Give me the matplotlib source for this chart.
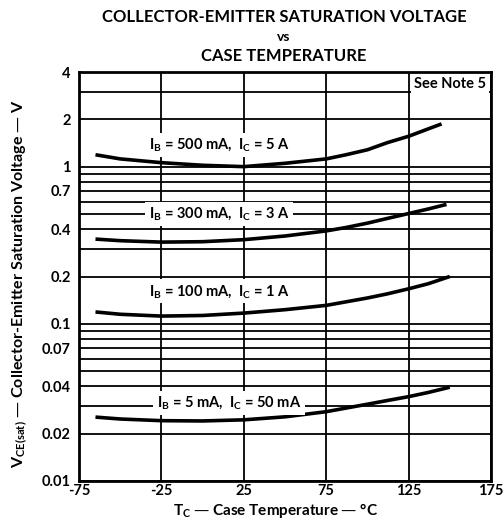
import matplotlib
matplotlib.use("Agg")
import matplotlib.pyplot as plt
from matplotlib.ticker import FixedLocator, LogLocator, NullFormatter

plt.rcParams['font.family'] = ['Lato', 'DejaVu Sans']
plt.rcParams['font.weight'] = 'bold'
plt.rcParams['mathtext.default'] = 'regular'

# Data
temp_500 = [-65, -50, -25, 0, 25, 50, 75, 87, 100, 112, 125, 137, 145]
vce_500 = [1.19, 1.12, 1.06, 1.02, 1.00, 1.05, 1.12, 1.19, 1.28, 1.42, 1.56, 1.74, 1.87]

temp_300 = [-65, -50, -25, 0, 25, 50, 75, 87, 100, 112, 125, 137, 148]
vce_300 = [0.346, 0.338, 0.331, 0.333, 0.343, 0.362, 0.390, 0.410, 0.437, 0.468, 0.503, 0.538, 0.575]

temp_100 = [-65, -50, -25, 0, 25, 50, 75, 87, 100, 112, 125, 137, 150]
vce_100 = [0.119, 0.115, 0.112, 0.113, 0.117, 0.123, 0.131, 0.138, 0.146, 0.155, 0.167, 0.180, 0.200]

temp_5 = [-65, -50, -25, 0, 25, 50, 75, 87, 100, 112, 125, 137, 150]
vce_5 = [0.0255, 0.0248, 0.0242, 0.0241, 0.0245, 0.0256, 0.0276, 0.0291, 0.0308, 0.0325, 0.0344, 0.0366, 0.0395]

x_ticks = [-75, -25, 25, 75, 125, 175]
y_ticks = [0.01, 0.02, 0.04, 0.07, 0.1, 0.2, 0.4, 0.7, 1, 2, 4]
y_tick_labels = ['0.01', '0.02', '0.04', '0.07', '0.1', '0.2', '0.4', '0.7', '1', '2', '4']

labels = [
    (r'$I_B$ = 500 mA,  $I_C$ = 5 A', 10, 1.38),
    (r'$I_B$ = 300 mA,  $I_C$ = 3 A', 10, 0.50),
    (r'$I_B$ = 100 mA,  $I_C$ = 1 A', 10, 0.161),
    (r'$I_B$ = 5 mA,  $I_C$ = 50 mA', 16, 0.0315),
]

fig = plt.figure(figsize=(5.04, 5.22), dpi=100)
ax = fig.add_axes([79 / 504, 1 - 481 / 522, (491 - 79) / 504, (481 - 72) / 522])

ax.set_yscale('log')
ax.set_xlim(-75, 175)
ax.set_ylim(0.01, 4)

ax.yaxis.set_major_locator(FixedLocator(y_ticks))
ax.set_yticklabels(y_tick_labels)
ax.yaxis.set_minor_locator(LogLocator(base=10, subs=range(2, 10)))
ax.yaxis.set_minor_formatter(NullFormatter())
ax.set_xticks(x_ticks)
ax.set_xticklabels([str(t) for t in x_ticks])

ax.grid(True, which='both', axis='y', color='black', lw=1.3)
ax.grid(True, which='major', axis='x', color='black', lw=1.3)
ax.tick_params(which='both', length=0, labelsize=10.5)
ax.tick_params(axis='x', pad=2)
ax.tick_params(axis='y', pad=6)
for sp in ax.spines.values():
    sp.set_linewidth(2.0)
ax.set_axisbelow(True)

for t, v in [(temp_500, vce_500), (temp_300, vce_300), (temp_100, vce_100), (temp_5, vce_5)]:
    ax.plot(t, v, color='black', lw=2.6, solid_capstyle='butt', solid_joinstyle='round', zorder=3)

for txt, x, y in labels:
    ax.text(x, y, txt, ha='center', va='center', fontsize=10.5, fontweight='bold', zorder=4,
            bbox=dict(facecolor='white', edgecolor='none', boxstyle='square,pad=0.25'))

ax.text(172, 3.35, 'See Note 5', ha='right', va='center', fontsize=10.5, fontweight='bold', zorder=4,
        bbox=dict(facecolor='white', edgecolor='none', boxstyle='square,pad=0.2'))

fig.text(284 / 504, 1 - 17 / 522, 'COLLECTOR-EMITTER SATURATION VOLTAGE', ha='center', va='center',
         fontsize=12, fontweight='bold')
fig.text(284 / 504, 1 - 37 / 522, 'vs', ha='center', va='center', fontsize=10, fontweight='bold')
fig.text(284 / 504, 1 - 56 / 522, 'CASE TEMPERATURE', ha='center', va='center', fontsize=12, fontweight='bold')

fig.text(20 / 504, 1 - 284 / 522, r'$V_{CE(sat)}$ — Collector-Emitter Saturation Voltage — V',
         rotation=90, ha='center', va='center', fontsize=11.5, fontweight='bold')
fig.text(276 / 504, 1 - 511 / 522, r'$T_C$ — Case Temperature — °C', ha='center', va='center',
         fontsize=11, fontweight='bold')

fig.savefig('out.png', dpi=100)
